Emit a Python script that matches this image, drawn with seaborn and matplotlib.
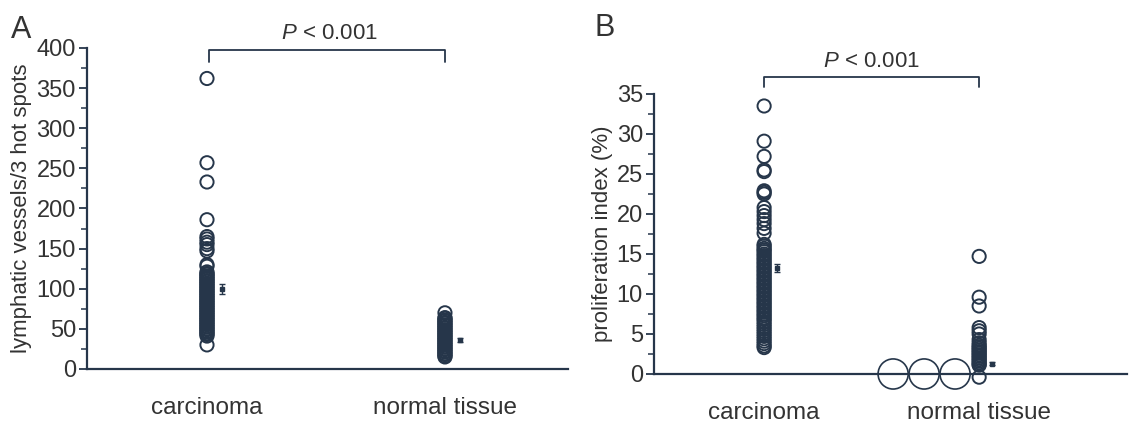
import numpy as np
import pandas as pd
import matplotlib
matplotlib.use("Agg")
import matplotlib.pyplot as plt
import seaborn as sns

# panel A: lymphatic vessels / 3 hot spots
groups = ["carcinoma", "normal tissue"]
lymph_carcinoma = [362, 257, 233, 186, 165, 162, 158, 155, 150, 147, 130, 128,
                   121, 119, 118, 116, 115, 113, 112, 110, 109, 107, 106, 104,
                   103, 101, 100, 98, 97, 95, 94, 92, 91, 89, 88, 86, 85, 83,
                   82, 80, 79, 77, 76, 74, 73, 71, 70, 68, 67, 65, 64, 62, 61,
                   59, 58, 56, 55, 53, 52, 50, 49, 47, 46, 44, 43, 41, 30]
lymph_normal = [70, 64, 63, 61, 60, 58, 57, 55, 54, 52, 51, 49, 48, 46, 45, 43,
                42, 40, 39, 37, 36, 34, 33, 31, 30, 28, 27, 25, 24, 22, 21, 19,
                18, 16, 15]
lymph_mean = [100, 36]
lymph_sem = [6, 2]

# panel B: proliferation index (%)
prolif_carcinoma = [33.5, 29.1, 27.2, 25.5, 25.3, 22.9, 22.7, 22.5, 20.8, 20.3,
                    19.8, 19.3, 18.8, 18.2, 17.6, 16.2, 16.0, 15.7, 15.5, 15.3,
                    15.0, 14.8, 14.5, 14.3, 14.0, 13.8, 13.5, 13.3, 13.0, 12.8,
                    12.5, 12.3, 12.0, 11.8, 11.5, 11.3, 11.0, 10.8, 10.5, 10.3,
                    10.0, 9.8, 9.5, 9.3, 9.0, 8.8, 8.5, 8.3, 8.0, 7.8, 7.5, 7.3,
                    7.0, 6.8, 6.5, 6.2, 5.9, 5.6, 5.3, 5.0, 4.7, 4.4, 4.1, 3.8,
                    3.5, 3.3]
prolif_normal = [14.7, 9.6, 8.5, 5.8, 5.4, 5.0, 4.3, 3.9, 3.6, 3.4, 3.2, 3.0,
                 2.8, 2.6, 2.4, 2.2, 2.0, 1.8, 1.6, 1.4, 1.2, 1.1, -0.4]
prolif_zero_big = [0, 0, 0]   # the three large circles at 0 (normal tissue)
prolif_mean = [13.2, 1.3]
prolif_sem = [0.5, 0.15]

dark = "#26364a"

sns.set_style("ticks")
plt.rcParams["font.family"] = ["Liberation Sans", "DejaVu Sans"]
plt.rcParams["mathtext.fontset"] = "custom"
plt.rcParams["mathtext.it"] = "Liberation Sans:italic"
plt.rcParams["mathtext.rm"] = "Liberation Sans"

fig = plt.figure(figsize=(11.29, 4.28), dpi=100)
axA = fig.add_axes([0.0771, 0.1379, 0.426, 0.75])
axB = fig.add_axes([0.5793, 0.1262, 0.419, 0.6542])


def strip_panel(ax, car, nor, mean, sem):
    df = pd.DataFrame({
        "group": [groups[0]] * len(car) + [groups[1]] * len(nor),
        "value": car + nor,
    })
    sns.stripplot(data=df, x="group", y="value", order=groups, jitter=False,
                  size=9.5, marker="o", color=dark, edgecolor=dark,
                  linewidth=1.4, ax=ax)
    for coll in ax.collections:
        coll.set_facecolor("none")
        coll.set_edgecolor(dark)
    ax.errorbar(x=[0.062, 1.062], y=mean, yerr=sem, fmt="s", ms=3,
                capsize=2, elinewidth=1, capthick=1, color=dark)


def style_axis(ax):
    sns.despine(ax=ax)
    for s in ["left", "bottom"]:
        ax.spines[s].set_linewidth(1.6)
        ax.spines[s].set_color(dark)
    ax.tick_params(axis="y", direction="out", length=6, width=1.3,
                   colors=dark, labelsize=17, labelcolor="#333", pad=2)
    ax.tick_params(axis="y", which="minor", direction="out", length=4,
                   width=1.1, colors=dark)
    ax.tick_params(axis="x", length=0, pad=20, labelsize=17.5,
                   labelcolor="#333")
    ax.set_xlabel("")


# panel A
strip_panel(axA, lymph_carcinoma, lymph_normal, lymph_mean, lymph_sem)
axA.set_ylim(0, 400)
axA.set_xlim(-0.504, 1.517)
axA.set_yticks(np.arange(0, 401, 50))
axA.set_yticks(np.arange(25, 400, 50), minor=True)
axA.set_ylabel("lymphatic vessels/3 hot spots", fontsize=16, color="#333",
               labelpad=3)
style_axis(axA)
axA.plot([0.01, 0.01, 1.0, 1.0], [382, 398, 398, 382], color=dark, lw=1.3,
         clip_on=False)
axA.text(0.515, 405, r"$\mathit{P}$ < 0.001", ha="center", va="bottom",
         fontsize=16, color="#333", clip_on=False)
fig.text(0.010, 0.965, "A", fontsize=22, color="#333", va="top", ha="left")

# panel B
strip_panel(axB, prolif_carcinoma, prolif_normal, prolif_mean, prolif_sem)
big_x = [1 - 0.40 + 0.144 * i for i in range(len(prolif_zero_big))]
sns.scatterplot(x=big_x, y=prolif_zero_big, s=470, marker="o", ax=axB,
                facecolor="none", edgecolor=dark, linewidth=1.2, legend=False)
for coll in axB.collections:
    coll.set_facecolor("none")
axB.set_ylim(0, 35)
axB.set_xlim(-0.512, 1.688)
axB.set_yticks(np.arange(0, 36, 5))
axB.set_yticks(np.arange(2.5, 35, 5), minor=True)
axB.set_ylabel("proliferation index (%)", fontsize=16, color="#333",
               labelpad=3)
style_axis(axB)
for c in axB.collections:
    c.set_clip_on(False)
axB.plot([0.0, 0.0, 1.0, 1.0], [35.9, 37.1, 37.1, 35.9], color=dark, lw=1.3,
         clip_on=False)
axB.text(0.5, 37.8, r"$\mathit{P}$ < 0.001", ha="center", va="bottom",
         fontsize=16, color="#333", clip_on=False)
fig.text(0.527, 0.97, "B", fontsize=22, color="#333", va="top", ha="left")

fig.savefig("out.png", dpi=100)
